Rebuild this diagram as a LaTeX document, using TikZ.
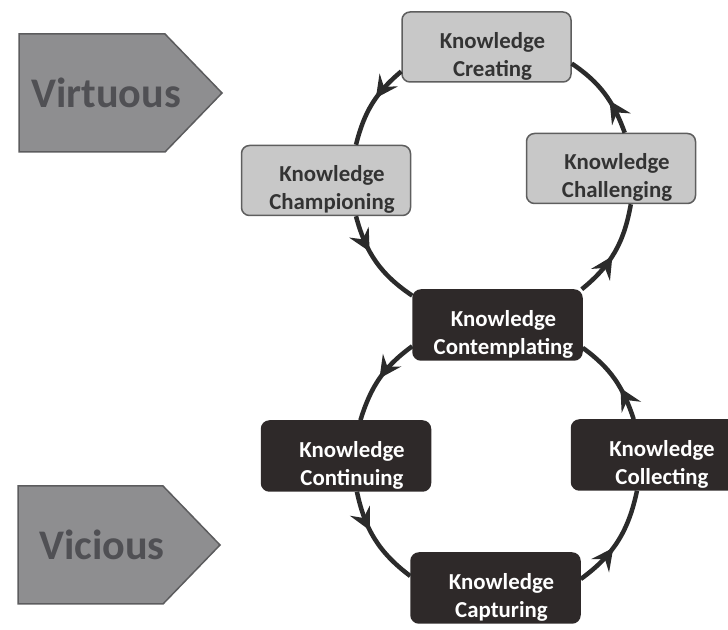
\documentclass[tikz,border=0pt]{standalone}
\usepackage{fontspec}
\setmainfont{Carlito}
\usetikzlibrary{decorations.markings,arrows.meta}
\tikzset{>={Stealth[length=4.4mm,width=4.4mm,inset=1.6mm]}}
\definecolor{BoxLight}{HTML}{C8C8C8}
\definecolor{BoxLightLine}{HTML}{5E5E5E}
\definecolor{BoxDark}{HTML}{2E2929}
\definecolor{TagFill}{HTML}{8E8E90}
\definecolor{TagLine}{HTML}{5C5C5E}
\definecolor{TagInk}{HTML}{505054}
\definecolor{RingInk}{HTML}{2B2B2B}
\colorlet{TextInk}{black!80}
\tikzset{
  KBox/.style={
      rectangle, rounded corners=1.6mm, inner sep=0pt,
      minimum width=33.8mm, minimum height=14mm, line width=0.3mm,
      font=\bfseries\fontsize{13}{16}\selectfont
    },
  LightBox/.style={KBox, fill=BoxLight, draw=BoxLightLine, text=TextInk},
  DarkBox/.style={KBox, fill=BoxDark, draw=BoxDark, text=white},
  TagShape/.style={fill=TagFill, draw=TagLine, line width=0.3mm},
  TagLabel/.style={text=TagInk, font=\bfseries\fontsize{24}{28}\selectfont},
  Ring/.style={
      RingInk, line width=0.9mm,
      postaction={decorate},
      decoration={markings,
          mark=at position #1 with {\arrow{>}}
        }
    }
}
% two lines of box text, set a little low and to the right
\newcommand{\KText}[2]{\kern2.4mm\raisebox{-3mm}[0pt][0pt]{\begin{tabular}{@{}c@{}}#1\\#2\end{tabular}}}

\begin{document}
\begin{tikzpicture}[x=0.2mm,y=0.2mm]
  \useasboundingbox (0,0) rectangle (728,630);

  % side tags
  \draw[TagShape] (19,596) -- (165,596) -- (222,537) -- (165,478) -- (19,478) -- cycle;
  \node[TagLabel] (virtuous) at (106,537) {Virtuous};
  \draw[TagShape] (18,144) -- (163,144) -- (220,85) -- (163,26) -- (18,26) -- cycle;
  \node[TagLabel] (vicious) at (102,85) {Vicious};

  % upper loop
  \node[LightBox] (create) at (486.5,583) {\KText{Knowledge}{Creating}};
  \node[LightBox] (champ) at (326,449.5) {\KText{Knowledge}{Championing}};
  \node[LightBox] (chall) at (611,461.5) {\KText{Knowledge}{Challenging}};
  \node[DarkBox] (contemp) at (497.5,305) {\KText{Knowledge}{Contemplating}};

  % lower loop
  \node[DarkBox] (contin) at (346,174) {\KText{Knowledge}{Continuing}};
  \node[DarkBox] (collect) at (656,175) {\KText{Knowledge}{Collecting}};
  \node[DarkBox] (capture) at (495.5,42) {\KText{Knowledge}{Capturing}};

  \draw[Ring=0.42] (create.196) to[out=220,in=76] (champ.50);
  \draw[Ring=0.38] (champ.310) to[out=285,in=146] (contemp.161);
  \draw[Ring=0.45] (contemp.23) to[out=39,in=260] (chall.299);
  \draw[Ring=0.4] (chall.69) to[out=110,in=326] (create.349);

  \draw[Ring=0.5] (contemp.194) to[out=216,in=73] (contin.68);
  \draw[Ring=0.4] (contin.287) to[out=282,in=143] (capture.172);
  \draw[Ring=0.42] (capture.6) to[out=36,in=258] (collect.242);
  \draw[Ring=0.38] (collect.122) to[out=108,in=324] (contemp.345);
\end{tikzpicture}
\end{document}
